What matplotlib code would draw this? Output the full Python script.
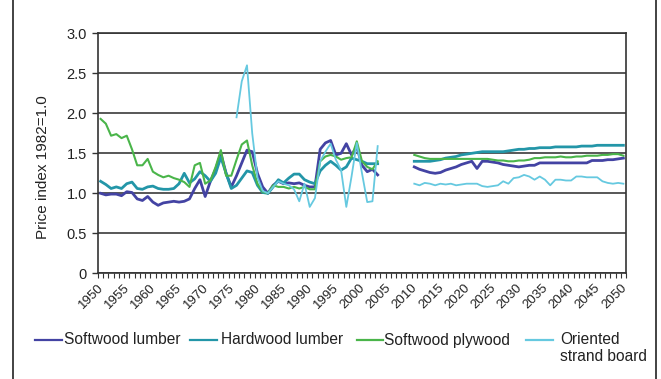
import matplotlib
matplotlib.use("Agg")
import matplotlib.pyplot as plt
from matplotlib.lines import Line2D
from matplotlib.transforms import ScaledTranslation
import numpy as np

plt.rcParams['font.family'] = ['Liberation Sans', 'DejaVu Sans']

# ---------------- data ----------------
hist_years = list(range(1950, 2004))
osb_years = list(range(1976, 2004))
proj_years = list(range(2010, 2051))

softwood_lumber_hist = [
    1.00, 0.98, 0.99, 0.99, 0.97, 1.02, 1.01, 0.93, 0.91, 0.96,
    0.89, 0.85, 0.88, 0.89, 0.90, 0.89, 0.90, 0.93, 1.06, 1.17,
    0.96, 1.15, 1.30, 1.50, 1.25, 1.08, 1.22, 1.38, 1.54, 1.52,
    1.25, 1.08, 1.00, 1.10, 1.15, 1.12, 1.13, 1.12, 1.13, 1.10,
    1.08, 1.08, 1.55, 1.63, 1.66, 1.48, 1.50, 1.62, 1.48, 1.58,
    1.35, 1.27, 1.30, 1.23]
hardwood_lumber_hist = [
    1.15, 1.11, 1.06, 1.08, 1.06, 1.12, 1.14, 1.06, 1.05, 1.08,
    1.09, 1.06, 1.05, 1.05, 1.06, 1.12, 1.25, 1.13, 1.18, 1.27,
    1.22, 1.15, 1.25, 1.45, 1.25, 1.06, 1.10, 1.19, 1.28, 1.26,
    1.10, 1.01, 1.00, 1.08, 1.17, 1.13, 1.19, 1.24, 1.24, 1.17,
    1.14, 1.12, 1.28, 1.35, 1.40, 1.35, 1.29, 1.33, 1.44, 1.42,
    1.40, 1.37, 1.37, 1.37]
softwood_plywood_hist = [
    1.93, 1.87, 1.72, 1.74, 1.69, 1.72, 1.55, 1.35, 1.35, 1.43,
    1.27, 1.23, 1.20, 1.22, 1.19, 1.17, 1.14, 1.08, 1.35, 1.38,
    1.12, 1.16, 1.33, 1.54, 1.22, 1.22, 1.42, 1.61, 1.66, 1.35,
    1.12, 1.02, 1.00, 1.10, 1.08, 1.08, 1.06, 1.08, 1.06, 1.08,
    1.05, 1.05, 1.40, 1.46, 1.48, 1.46, 1.42, 1.44, 1.45, 1.65,
    1.40, 1.33, 1.30, 1.40]
osb_hist = [
    1.95, 2.40, 2.60, 1.75, 1.20, 1.03, 1.00, 1.08, 1.15, 1.12,
    1.10, 1.05, 0.90, 1.12, 0.83, 0.94, 1.40, 1.52, 1.62, 1.42,
    1.29, 0.83, 1.21, 1.63, 1.25, 0.89, 0.90, 1.59]

softwood_lumber_proj = [
    1.33, 1.30, 1.28, 1.26, 1.25, 1.26, 1.29, 1.31, 1.33, 1.36,
    1.38, 1.40, 1.31, 1.40, 1.40, 1.39, 1.38, 1.36, 1.35, 1.34,
    1.33, 1.34, 1.35, 1.35, 1.38, 1.38, 1.38, 1.38, 1.38, 1.38,
    1.38, 1.38, 1.38, 1.38, 1.41, 1.41, 1.41, 1.42, 1.42, 1.43,
    1.44]
hardwood_lumber_proj = [
    1.40, 1.40, 1.40, 1.40, 1.41, 1.42, 1.44, 1.45, 1.46, 1.48,
    1.49, 1.50, 1.51, 1.52, 1.52, 1.52, 1.52, 1.52, 1.53, 1.54,
    1.55, 1.55, 1.56, 1.56, 1.57, 1.57, 1.57, 1.58, 1.58, 1.58,
    1.58, 1.58, 1.59, 1.59, 1.59, 1.60, 1.60, 1.60, 1.60, 1.60,
    1.60]
softwood_plywood_proj = [
    1.48, 1.46, 1.44, 1.43, 1.43, 1.43, 1.43, 1.43, 1.43, 1.43,
    1.43, 1.43, 1.43, 1.43, 1.43, 1.42, 1.41, 1.41, 1.40, 1.40,
    1.41, 1.41, 1.42, 1.44, 1.44, 1.45, 1.45, 1.45, 1.46, 1.45,
    1.45, 1.46, 1.46, 1.47, 1.47, 1.47, 1.48, 1.48, 1.49, 1.49,
    1.47]
osb_proj = [
    1.12, 1.10, 1.13, 1.12, 1.10, 1.12, 1.11, 1.12, 1.10, 1.11,
    1.12, 1.12, 1.12, 1.09, 1.08, 1.09, 1.10, 1.15, 1.12, 1.19,
    1.20, 1.23, 1.21, 1.17, 1.21, 1.17, 1.10, 1.17, 1.17, 1.16,
    1.16, 1.21, 1.21, 1.20, 1.20, 1.20, 1.15, 1.13, 1.12, 1.13,
    1.12]

series_names = ["Softwood lumber", "Hardwood lumber", "Softwood plywood",
                "Oriented\nstrand board"]
colors = ["#4343a3", "#2396a8", "#4ab54a", "#66c9e0"]
widths = [2.0, 2.0, 1.5, 1.3]

y_ticks = [0, 0.5, 1.0, 1.5, 2.0, 2.5, 3.0]
y_ticklabels = ["0", "0.5", "1.0", "1.5", "2.0", "2.5", "3.0"]
x_label_years = list(range(1950, 2051, 5))
y_label = "Price index 1982=1.0"

# ---------------- figure ----------------
W, H = 661, 379
fig = plt.figure(figsize=(W / 100, H / 100), dpi=100)

def fx(px):
    return px / W

def fy(py):
    return 1 - py / H

ax_l, ax_r, ax_t, ax_b = 98, 626, 33.3, 273.3
ax = fig.add_axes([fx(ax_l), fy(ax_b), fx(ax_r - ax_l), (ax_b - ax_t) / H])

hist = [
    (hist_years, softwood_lumber_hist, proj_years, softwood_lumber_proj),
    (hist_years, hardwood_lumber_hist, proj_years, hardwood_lumber_proj),
    (hist_years, softwood_plywood_hist, proj_years, softwood_plywood_proj),
    (osb_years, osb_hist, proj_years, osb_proj),
]
for (hx, hy, px_, py_), c, lw in zip(hist, colors, widths):
    ax.plot(hx, hy, color=c, lw=lw, solid_joinstyle='round', zorder=3)
    ax.plot(px_, py_, color=c, lw=lw, solid_joinstyle='round', zorder=3)

ax.set_xlim(1949.5, 2050.5)
ax.set_ylim(0, 3.0)
ax.set_yticks(y_ticks)
ax.set_yticklabels(y_ticklabels)
ax.yaxis.grid(True, color="#4a4a4a", lw=1.3)
ax.set_axisbelow(True)

ax.set_xticks(x_label_years)
ax.set_xticklabels([str(y) for y in x_label_years], rotation=45,
                   ha='right', va='top', rotation_mode='anchor', fontsize=9.5,
                   color="#222222")
ax.set_xticks(np.arange(1949.5, 2051, 1.0), minor=True)
ax.tick_params(axis='x', which='major', length=0, pad=6)
ax.tick_params(axis='x', which='minor', length=3.5, width=0.8, color="#333333")
ax.tick_params(axis='y', length=4, width=1.0, color="#333333", pad=4,
               labelsize=10.5, labelcolor="#222222")
offset = ScaledTranslation(-3 / 100, 0, fig.dpi_scale_trans)
for lab in ax.get_xticklabels():
    lab.set_transform(lab.get_transform() + offset)

for s in ax.spines.values():
    s.set_color("#333333")
    s.set_linewidth(1.2)

fig.text(fx(43), fy(167), y_label, rotation=90, ha='center', va='center',
         fontsize=11, color="#222222")

# legend (manual)
leg_y = 340
items = [(35, 62, 64), (190, 217, 221), (357, 383, 384), (526, 553, 560)]
for (x0, x1, tx), name, c in zip(items, series_names, colors):
    fig.add_artist(Line2D([fx(x0), fx(x1)], [fy(leg_y), fy(leg_y)],
                          transform=fig.transFigure, color=c, lw=1.6))
    if "\n" in name:
        fig.text(fx(tx), fy(leg_y - 8), name, ha='left', va='top',
                 fontsize=11.2, color="#222222", linespacing=1.2)
    else:
        fig.text(fx(tx), fy(leg_y), name, ha='left', va='center',
                 fontsize=11.2, color="#222222")

# outer frame lines
for xx in (12.5, 655.5):
    fig.add_artist(Line2D([fx(xx), fx(xx)], [0, 1], transform=fig.transFigure,
                          color="#222222", lw=1.2))

fig.savefig("out.png", dpi=100)
